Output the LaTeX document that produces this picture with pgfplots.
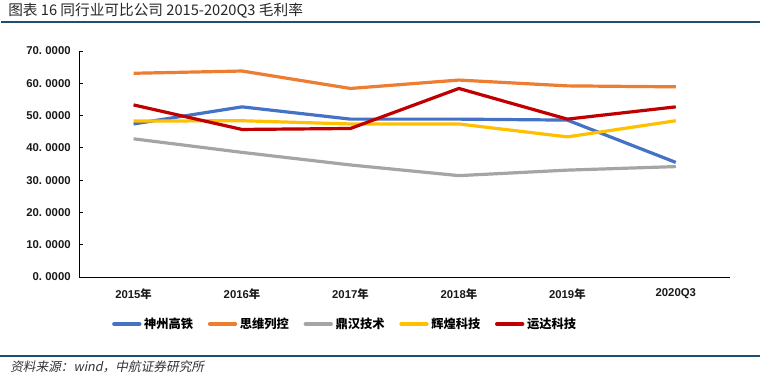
\documentclass[border=0pt]{standalone}
\usepackage{fontspec}
\usepackage{pgfplots}
\pgfplotsset{compat=1.18}
\setmainfont{Liberation Sans}
\newfontfamily\cjk{Noto Sans CJK SC}
\newfontfamily\cjkit{Noto Sans CJK SC}[FakeSlant=0.2]
\definecolor{cblue}{HTML}{4472C4}
\definecolor{corange}{HTML}{ED7D31}
\definecolor{cgray}{HTML}{A5A5A5}
\definecolor{cyellow}{HTML}{FFC000}
\definecolor{cred}{HTML}{C00000}
\definecolor{cruleb}{HTML}{1F4E6E}
\newcommand{\ys}[1]{#1.\hspace{0.3em}0000}
\begin{document}
\begin{tikzpicture}
\path[use as bounding box] (0,0) rectangle (570bp,282.75bp);
\node[anchor=south west,inner sep=0pt,outer sep=0pt] at (1bp,265.7bp) {\textcolor{cruleb}{\rule{569bp}{1.1bp}}};
\node[anchor=south west,inner sep=0pt,outer sep=0pt] at (0bp,15bp) {\textcolor{cruleb}{\rule{570bp}{1.6bp}}};
\node[anchor=west,inner sep=0pt,text=black!85] at (6bp,274.5bp) {\cjk\fontsize{11bp}{13bp}\selectfont 图表 16 同行业可比公司 2015-2020Q3 毛利率};
\node[anchor=west,inner sep=0pt,text=black!80] at (7.5bp,8bp) {\cjkit\fontsize{9.5bp}{11bp}\selectfont 资料来源：wind，中航证券研究所};
\begin{axis}[
  at={(59.5bp,75bp)}, anchor=south west,
  scale only axis, width=488bp, height=169.5bp,
  xmin=-0.5, xmax=5.5, ymin=0, ymax=70,
  axis x line*=bottom, axis y line*=left,
  axis line style={-, black, line width=0.6bp},
  xtick={0,1,2,3,4,5},
  xticklabels={2015{\cjk 年},2016{\cjk 年},2017{\cjk 年},2018{\cjk 年},2019{\cjk 年},2020Q3},
  xtick style={draw=none},
  ytick={0,10,20,30,40,50,60,70},
  yticklabels={\ys{0},\ys{10},\ys{20},\ys{30},\ys{40},\ys{50},\ys{60},\ys{70}},
  tick align=inside, major tick length=2.5bp,
  ytick style={black, line width=0.6bp},
  ticklabel style={font=\bfseries\fontsize{8.5bp}{10bp}\selectfont, text=black!90},
  yticklabel style={xshift=-3bp},
  xticklabel style={yshift=-5bp},
  legend style={at={(0.409,-0.208)}, anchor=center, draw=none, fill=none,
    legend columns=5, font=\cjk\bfseries\fontsize{9.2bp}{11bp}\selectfont,
    /tikz/every even column/.append style={column sep=9bp},
    legend cell align=left, inner sep=0pt},
  legend image code/.code={\draw[#1, line width=3bp, line cap=round] (0bp,0bp) -- (19bp,0bp);},
  every axis plot/.append style={line width=2.4bp, line join=round},
]
\addplot[cblue] coordinates {(0,47.4) (1,52.7) (2,48.9) (3,48.9) (4,48.6) (5,35.5)};
\addlegendentry{神州高铁}
\addplot[corange] coordinates {(0,63.1) (1,63.8) (2,58.4) (3,61.0) (4,59.2) (5,58.9)};
\addlegendentry{思维列控}
\addplot[cgray] coordinates {(0,42.8) (1,38.6) (2,34.7) (3,31.4) (4,33.1) (5,34.2)};
\addlegendentry{鼎汉技术}
\addplot[cyellow] coordinates {(0,48.3) (1,48.4) (2,47.4) (3,47.4) (4,43.4) (5,48.4)};
\addlegendentry{辉煌科技}
\addplot[cred] coordinates {(0,53.3) (1,45.7) (2,46.0) (3,58.4) (4,48.9) (5,52.7)};
\addlegendentry{运达科技}
\end{axis}
\end{tikzpicture}
\end{document}
